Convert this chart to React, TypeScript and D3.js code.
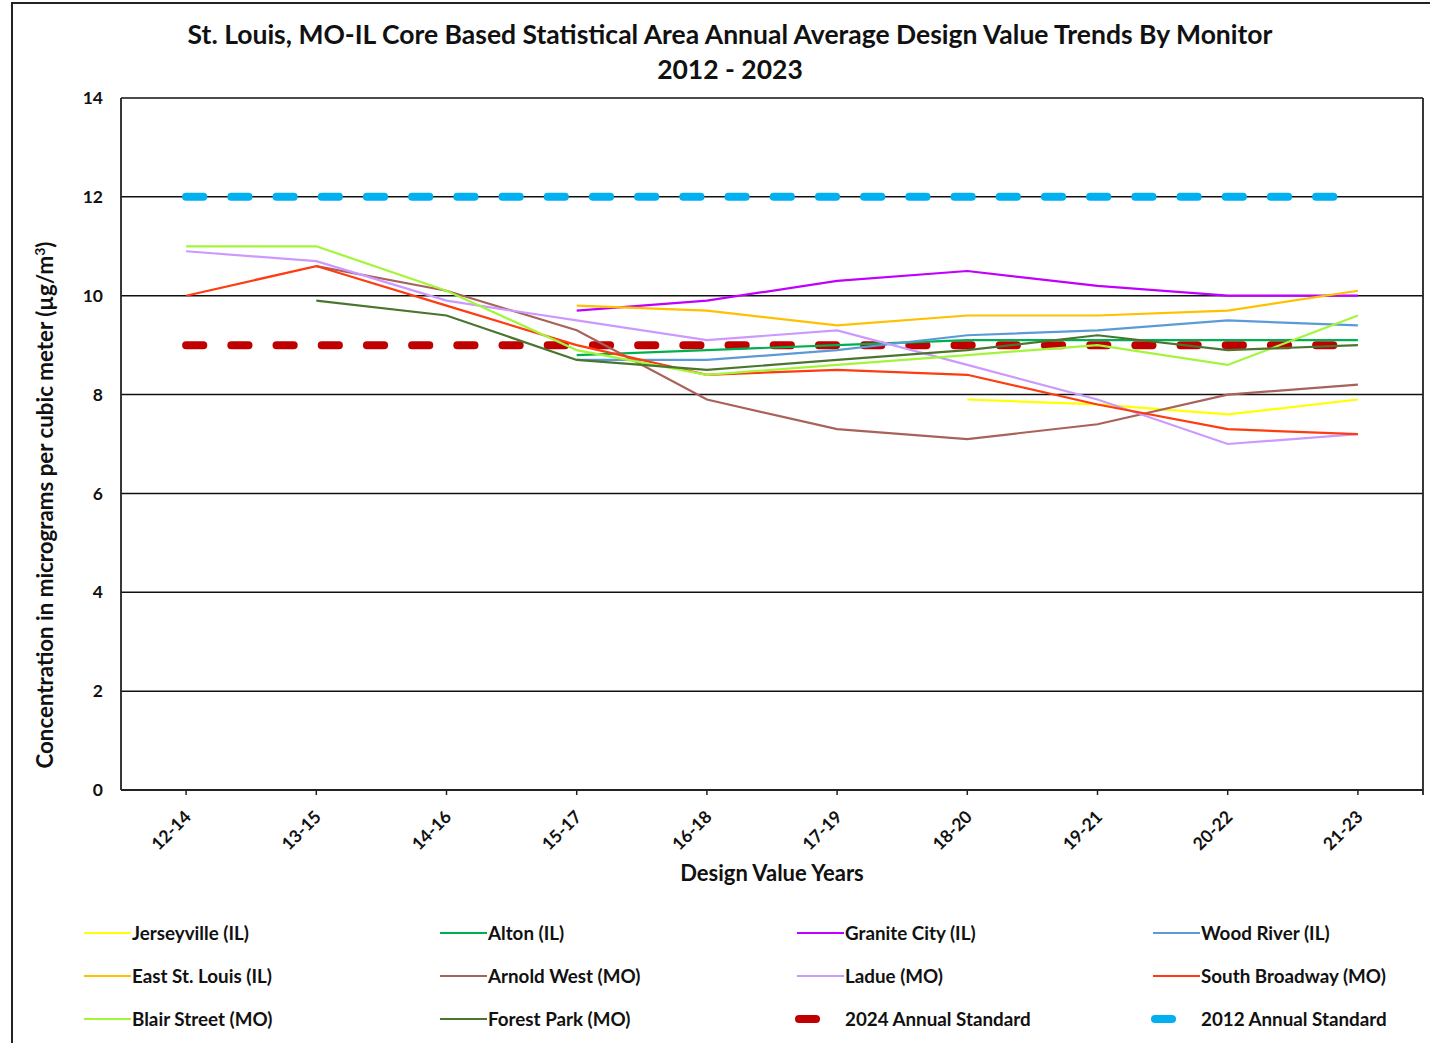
import * as d3 from "d3"

const YEARS = ["12-14", "13-15", "14-16", "15-17", "16-18", "17-19", "18-20", "19-21", "20-22", "21-23"]
const Y_TICKS = [0, 2, 4, 6, 8, 10, 12, 14]

type V = number | null

const jerseyville: V[] = [null, null, null, null, null, null, 7.9, 7.8, 7.6, 7.9]
const alton: V[] = [null, null, null, 8.8, 8.9, 9.0, 9.1, 9.1, 9.1, 9.1]
const graniteCity: V[] = [null, null, null, 9.7, 9.9, 10.3, 10.5, 10.2, 10.0, 10.0]
const woodRiver: V[] = [null, null, null, 8.7, 8.7, 8.9, 9.2, 9.3, 9.5, 9.4]
const eastStLouis: V[] = [null, null, null, 9.8, 9.7, 9.4, 9.6, 9.6, 9.7, 10.1]
const arnoldWest: V[] = [null, 10.6, 10.1, 9.3, 7.9, 7.3, 7.1, 7.4, 8.0, 8.2]
const ladue: V[] = [10.9, 10.7, 9.9, 9.5, 9.1, 9.3, 8.6, 7.9, 7.0, 7.2]
const southBroadway: V[] = [10.0, 10.6, 9.8, 9.0, 8.4, 8.5, 8.4, 7.8, 7.3, 7.2]
const blairStreet: V[] = [11.0, 11.0, 10.1, 8.9, 8.4, 8.6, 8.8, 9.0, 8.6, 9.6]
const forestPark: V[] = [null, 9.9, 9.6, 8.7, 8.5, 8.7, 8.9, 9.2, 8.9, 9.0]
const standard2024: V[] = [9, 9, 9, 9, 9, 9, 9, 9, 9, 9]
const standard2012: V[] = [12, 12, 12, 12, 12, 12, 12, 12, 12, 12]

const MONITORS = [
  { name: "Jerseyville (IL)", values: jerseyville, color: "#ffff00" },
  { name: "Alton (IL)", values: alton, color: "#00b050" },
  { name: "Granite City (IL)", values: graniteCity, color: "#c000ff" },
  { name: "Wood River (IL)", values: woodRiver, color: "#5b9bd5" },
  { name: "East St. Louis (IL)", values: eastStLouis, color: "#ffc000" },
  { name: "Arnold West (MO)", values: arnoldWest, color: "#a9625a" },
  { name: "Ladue (MO)", values: ladue, color: "#cc99ff" },
  { name: "South Broadway (MO)", values: southBroadway, color: "#ff3b10" },
  { name: "Blair Street (MO)", values: blairStreet, color: "#a3f53a" },
  { name: "Forest Park (MO)", values: forestPark, color: "#4a7530" },
]

const STANDARDS = [
  { name: "2024 Annual Standard", values: standard2024, color: "#c00000" },
  { name: "2012 Annual Standard", values: standard2012, color: "#00b0f0" },
]

const FONT = "Lato, 'Open Sans', sans-serif"

export default function App() {
  const W = 1430
  const H = 1043
  const plot = { left: 121, right: 1423, top: 98, bottom: 790 }

  const x = d3.scalePoint<string>().domain(YEARS).range([plot.left, plot.right]).padding(0.5)
  const y = d3.scaleLinear().domain([0, 14]).range([plot.bottom, plot.top])

  const line = d3
    .line<V>()
    .defined((d) => d != null)
    .x((_, i) => x(YEARS[i])!)
    .y((d) => y(d as number))

  // legend entries: 4 columns, monitors first then the two standards
  const legendItems = [...MONITORS.map((m) => ({ ...m, std: false })), ...STANDARDS.map((s) => ({ ...s, std: true }))]
  const colX = [84, 440, 797, 1153]
  const rowY = [933, 976, 1019]

  return (
    <svg
      width={W}
      height={H}
      style={{ position: "absolute", left: 0, top: 0, background: "#fff" }}
      fontFamily={FONT}
    >
      {/* outer frame */}
      <path d={`M12,${H} L12,3 L${W},3`} fill="none" stroke="#222" strokeWidth={2} />

      {/* title */}
      <text x={730} y={44} textAnchor="middle" fontSize={26.5} fontWeight={700} fill="#111">
        St. Louis, MO-IL Core Based Statistical Area Annual Average Design Value Trends By Monitor
      </text>
      <text x={730} y={79} textAnchor="middle" fontSize={26.5} fontWeight={700} fill="#111">
        2012 - 2023
      </text>

      {/* grid lines */}
      {Y_TICKS.filter((t) => t > 0).map((t) => (
        <line key={t} x1={plot.left} x2={plot.right} y1={y(t)} y2={y(t)} stroke="#111" strokeWidth={1.5} />
      ))}
      {/* axes + right border */}
      <line x1={plot.left} x2={plot.left} y1={plot.top} y2={plot.bottom} stroke="#222" strokeWidth={1.8} />
      <line x1={plot.right} x2={plot.right} y1={plot.top} y2={plot.bottom + 5} stroke="#222" strokeWidth={1.8} />
      <line x1={plot.left} x2={plot.right} y1={plot.bottom} y2={plot.bottom} stroke="#222" strokeWidth={1.8} />
      {YEARS.map((yr) => (
        <line key={yr} x1={x(yr)} x2={x(yr)} y1={plot.bottom} y2={plot.bottom + 5} stroke="#222" strokeWidth={1.5} />
      ))}

      {/* y tick labels */}
      {Y_TICKS.map((t) => (
        <text key={t} x={103} y={y(t)} dy="0.35em" textAnchor="end" fontSize={17.5} fontWeight={700} fill="#111">
          {t}
        </text>
      ))}

      {/* x tick labels */}
      {YEARS.map((yr) => (
        <text
          key={yr}
          transform={`translate(${x(yr)! + 6},${plot.bottom + 28}) rotate(-45)`}
          textAnchor="end"
          fontSize={17.5}
          fontWeight={700}
          fill="#111"
        >
          {yr}
        </text>
      ))}

      {/* axis titles */}
      <text x={772} y={881} textAnchor="middle" fontSize={22} fontWeight={700} fill="#111">
        Design Value Years
      </text>
      <text transform="translate(53,505) rotate(-90)" textAnchor="middle" fontSize={22.3} fontWeight={700} fill="#111">
        Concentration in micrograms per cubic meter (µg/m<tspan dy={-8} fontSize={14}>3</tspan>
        <tspan dy={8}>)</tspan>
      </text>

      {/* standards */}
      {STANDARDS.map((s) => (
        <path
          key={s.name}
          d={line(s.values) ?? ""}
          fill="none"
          stroke={s.color}
          strokeWidth={8}
          strokeLinecap="round"
          strokeDasharray="17.2,28"
        />
      ))}

      {/* monitor lines */}
      {MONITORS.map((m) => (
        <path key={m.name} d={line(m.values) ?? ""} fill="none" stroke={m.color} strokeWidth={2.2} />
      ))}

      {/* legend */}
      {legendItems.map((it, i) => {
        const cx = colX[i % 4]
        const cy = rowY[Math.floor(i / 4)]
        return (
          <g key={it.name}>
            {it.std ? (
              <line x1={cx + 2} x2={cx + 19} y1={cy} y2={cy} stroke={it.color} strokeWidth={8} strokeLinecap="round" />
            ) : (
              <line x1={cx} x2={cx + 47} y1={cy} y2={cy} stroke={it.color} strokeWidth={2.2} />
            )}
            <text x={cx + 48} y={cy} dy="0.35em" fontSize={18.8} fontWeight={700} fill="#111">
              {it.name}
            </text>
          </g>
        )
      })}
    </svg>
  )
}
